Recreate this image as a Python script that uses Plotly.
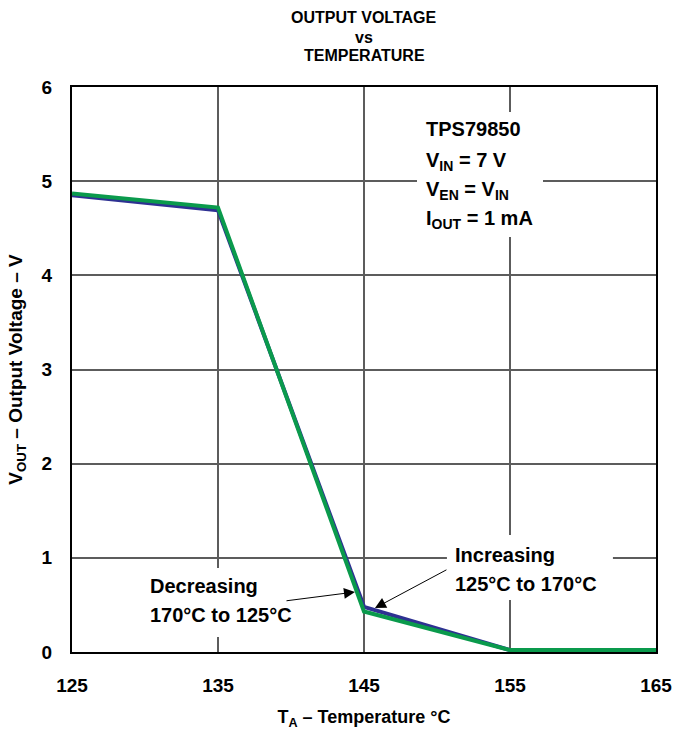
import plotly.graph_objects as go

# ---- data ----
temperature = [125, 135, 145, 155, 165]
vout_increasing = [4.85, 4.69, 0.48, 0.02, 0.02]   # 125°C to 170°C (blue)
vout_decreasing = [4.87, 4.72, 0.43, 0.02, 0.02]   # 170°C to 125°C (green)
x_ticks = [125, 135, 145, 155, 165]
y_ticks = [0, 1, 2, 3, 4, 5, 6]
title_lines = ["OUTPUT VOLTAGE", "vs", "TEMPERATURE"]

FONT = "Liberation Sans, Arial, Helvetica, sans-serif"
BLUE = "#2E3192"
GREEN = "#0A9A4C"
GRID = "#5c5c5c"

W, H = 675, 736
M_L, M_R, M_T, M_B = 72, 19, 87, 84
PLOT_H = H - M_T - M_B

fig = go.Figure()
fig.add_trace(go.Scatter(x=temperature, y=vout_increasing, mode="lines",
                         line=dict(color=BLUE, width=4), showlegend=False))
fig.add_trace(go.Scatter(x=temperature, y=vout_decreasing, mode="lines",
                         line=dict(color=GREEN, width=4), showlegend=False))

# white masks behind annotation text (break the grid like the original)
masks = [
    (148.63, 157.26, 4.407, 5.734),
    (129.66, 140.96, 0.159, 0.892),
    (150.68, 162.05, 0.552, 1.242),
]
for x0, x1, y0, y1 in masks:
    fig.add_shape(type="rect", xref="x", yref="y", x0=x0, x1=x1, y0=y0, y1=y1,
                  fillcolor="white", line=dict(width=0), layer="between")

ann_font = dict(family=FONT, size=20, color="black", weight="bold")
info_lines = [
    ("TPS79850", 5.55),
    ("V<sub>IN</sub> = 7 V", 5.21),
    ("V<sub>EN</sub> = V<sub>IN</sub>", 4.90),
    ("I<sub>OUT</sub> = 1 mA", 4.59),
]
for txt, yy in info_lines:
    fig.add_annotation(x=149.11, y=yy, xref="x", yref="y", text=txt,
                       showarrow=False, xanchor="left", yanchor="middle",
                       font=ann_font)

fig.add_annotation(x=130.2, y=0.70, xref="x", yref="y", text="Decreasing",
                   showarrow=False, xanchor="left", yanchor="middle", font=ann_font)
fig.add_annotation(x=130.2, y=0.39, xref="x", yref="y", text="170°C to 125°C",
                   showarrow=False, xanchor="left", yanchor="middle", font=ann_font)
fig.add_annotation(x=151.1, y=1.03, xref="x", yref="y", text="Increasing",
                   showarrow=False, xanchor="left", yanchor="middle", font=ann_font)
fig.add_annotation(x=151.1, y=0.72, xref="x", yref="y", text="125°C to 170°C",
                   showarrow=False, xanchor="left", yanchor="middle", font=ann_font)

# arrows
fig.add_annotation(x=144.38, y=0.637, ax=139.59, ay=0.542, xref="x", yref="y",
                   axref="x", ayref="y", text="", showarrow=True, arrowhead=2,
                   arrowsize=2.2, arrowwidth=1, arrowcolor="black", standoff=0)
fig.add_annotation(x=145.75, y=0.467, ax=150.75, ay=0.881, xref="x", yref="y",
                   axref="x", ayref="y", text="", showarrow=True, arrowhead=2,
                   arrowsize=2.2, arrowwidth=1, arrowcolor="black", standoff=0)

# title as three centred lines (positions given in pixels from the top)
title_font = dict(family=FONT, size=16, color="black", weight="bold")
for txt, ypx in zip(title_lines, [17, 37, 56]):
    fig.add_annotation(x=0.5, xref="paper", y=(H - M_B - ypx) / PLOT_H, yref="paper",
                       text=txt, showarrow=False, xanchor="center",
                       yanchor="middle", font=title_font)

fig.update_layout(
    width=W, height=H,
    margin=dict(l=M_L, r=M_R, t=M_T, b=M_B, autoexpand=False),
    paper_bgcolor="white", plot_bgcolor="white",
    font=dict(family=FONT, color="black"),
    xaxis=dict(range=[125, 165], tickvals=x_ticks, ticks="",
               showgrid=True, gridcolor=GRID, gridwidth=1.5,
               showline=True, linecolor="black", linewidth=2, mirror=True,
               zeroline=False, ticklabelstandoff=15, ticklabeloverflow="allow",
               tickfont=dict(family=FONT, size=19, color="black", weight="bold"),
               title=dict(text="T<sub>A</sub> – Temperature °C", standoff=16,
                          font=dict(family=FONT, size=18, color="black", weight="bold"))),
    yaxis=dict(range=[0, 6], tickvals=y_ticks, ticks="",
               showgrid=True, gridcolor=GRID, gridwidth=1.5,
               showline=True, linecolor="black", linewidth=2, mirror=True,
               zeroline=False, ticklabelstandoff=14,
               tickfont=dict(family=FONT, size=19, color="black", weight="bold"),
               title=dict(text="V<sub>OUT</sub> – Output Voltage – V", standoff=14,
                          font=dict(family=FONT, size=19, color="black", weight="bold"))),
)

fig.write_html("out.html", config={"displayModeBar": False},
               post_script="document.body.style.margin='0';")
